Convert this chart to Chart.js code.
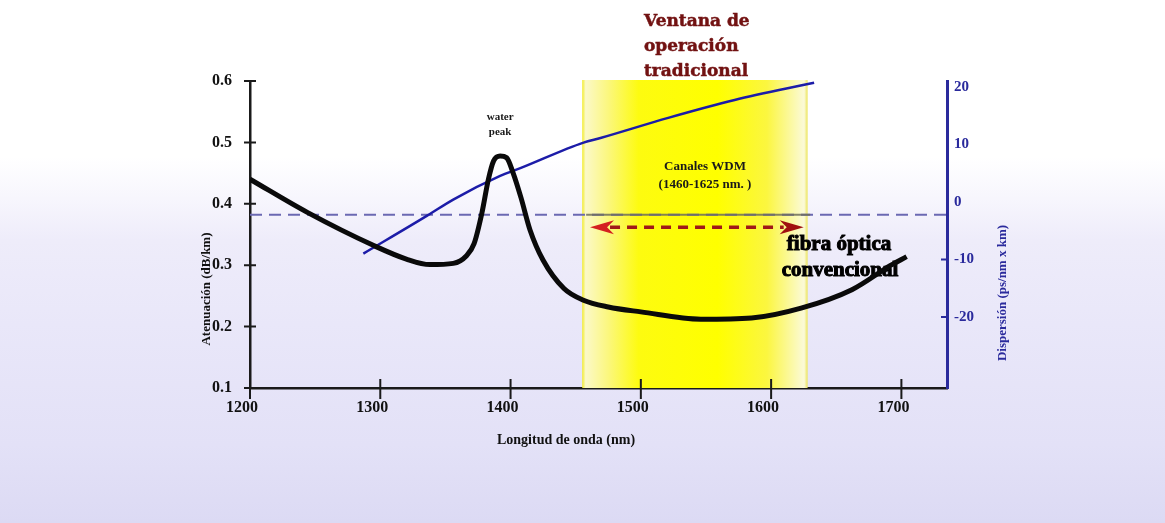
<!DOCTYPE html>
<html>
<head>
<meta charset="utf-8">
<script src="https://cdn.jsdelivr.net/npm/chart.js@4.4.1/dist/chart.umd.min.js"></script>
<style>
    html, body { margin: 0; padding: 0; }
    body {
        width: 1165px;
        height: 523px;
        overflow: hidden;
        background: linear-gradient(180deg, #ffffff 0%, #ffffff 30%, #f7f6fd 38%, #eeecfa 46%, #e9e7f9 62%, #e3e1f7 85%, #dcdaf4 100%);
    }
</style>
</head>
<body>
<canvas id="chart" width="1165" height="523"></canvas>
<script>
// wavelength axis (nm) and tick values
const wavelengthTicks  = [1200, 1300, 1400, 1500, 1600, 1700];
const attenuationTicks = [0.1, 0.2, 0.3, 0.4, 0.5, 0.6];
const dispersionTicks  = [-20, -10, 0, 10, 20];

// attenuation curve (dB/km)
const attenuationNm = [1200, 1244, 1295, 1320, 1338, 1356, 1366, 1372, 1378, 1383, 1387, 1392, 1397, 1402, 1408, 1415, 1425, 1441, 1456, 1475, 1500, 1546, 1585, 1623, 1662, 1692, 1704];
const attenuationDb = [0.440, 0.386, 0.332, 0.310, 0.301, 0.303, 0.315, 0.335, 0.385, 0.440, 0.470, 0.478, 0.475, 0.450, 0.410, 0.357, 0.308, 0.262, 0.243, 0.232, 0.224, 0.212, 0.214, 0.230, 0.260, 0.300, 0.314];

// dispersion curve (ps/nm x km)
const dispersionNm = [1287, 1336, 1356, 1392, 1408, 1456, 1469, 1521, 1572, 1633];
const dispersionPs = [-9.0, -2.4, 0.4, 4.5, 5.9, 10.3, 11.1, 14.6, 17.7, 20.7];

// dashed reference line and WDM window
const refLineNm   = [1200, 1735];
const refLineDb   = [0.382, 0.382];
const bandLineNm  = [1458, 1630];
const wdmBand     = [1455, 1628];
const arrowNm     = [1461, 1625];
const arrowDb     = 0.362;

const pairs = (xs, ys) => xs.map((v, i) => ({x: v, y: ys[i]}));

const serif = '"Liberation Serif", "Times New Roman", serif';
const axisBlue = '#2a2a9c';

const overlay = {
    id: 'overlay',
    beforeDatasetsDraw (chart)
    {
        const {ctx, chartArea: a, scales: {x, y}} = chart;
        ctx.save();

        // heading above the window
        ctx.fillStyle    = '#721212';
        ctx.strokeStyle  = '#721212';
        ctx.lineWidth    = 0.5;
        ctx.font         = 'bold 17px "DejaVu Serif", serif';
        ctx.textAlign    = 'left';
        ctx.textBaseline = 'middle';
        [['Ventana de', 22], ['operación', 47], ['tradicional', 72]].forEach(([t, ty]) => {
            ctx.fillText(t, 644, ty);
            ctx.strokeText(t, 644, ty);
        });

        // WDM window band
        const x0 = x.getPixelForValue(wdmBand[0]);
        const x1 = x.getPixelForValue(wdmBand[1]);
        const g  = ctx.createLinearGradient(x0, 0, x1, 0);
        g.addColorStop(0, '#f2ec2a');
        g.addColorStop(0.015, '#fbf9c8');
        g.addColorStop(0.12, '#fbf77a');
        g.addColorStop(0.25, '#fdfb10');
        g.addColorStop(0.6, '#ffff00');
        g.addColorStop(0.82, '#fbf640');
        g.addColorStop(0.985, '#fbfad8');
        g.addColorStop(1, '#ece55a');
        ctx.fillStyle = g;
        ctx.fillRect(x0, a.top - 1, x1 - x0, a.bottom - a.top + 1);

        // labels inside the plot
        ctx.fillStyle = '#1a1a1a';
        ctx.textAlign = 'center';
        ctx.font      = 'bold 11px ' + serif;
        ctx.fillText('water', x.getPixelForValue(1392), 117);
        ctx.fillText('peak', x.getPixelForValue(1392), 132);

        ctx.font = 'bold 13px ' + serif;
        ctx.fillText('Canales WDM', 705, 167);
        ctx.fillText('(1460-1625 nm. )', 705, 185);

        ctx.fillStyle   = '#000';
        ctx.strokeStyle = '#000';
        ctx.lineWidth   = 1;
        ctx.font        = 'bold 21px ' + serif;
        ctx.fillText('fibra óptica', 839, 245);
        ctx.strokeText('fibra óptica', 839, 245);
        ctx.fillText('convencional', 840, 271);
        ctx.strokeText('convencional', 840, 271);

        ctx.restore();
    },
    afterDatasetsDraw (chart)
    {
        const {ctx, chartArea: a, scales: {x, y, y2}} = chart;
        ctx.save();

        // crossing tick marks
        ctx.strokeStyle = '#1a1a1a';
        ctx.lineWidth   = 2;
        ctx.beginPath();
        wavelengthTicks.forEach((v) => {
            const px = x.getPixelForValue(v);
            ctx.moveTo(px, a.bottom - 9);
            ctx.lineTo(px, a.bottom + 11);
        });
        attenuationTicks.forEach((v) => {
            const py = y.getPixelForValue(v);
            ctx.moveTo(a.left - 6, py);
            ctx.lineTo(a.left + 6, py);
        });
        ctx.stroke();

        ctx.strokeStyle = axisBlue;
        ctx.beginPath();
        dispersionTicks.filter((v) => v < 0).forEach((v) => {
            const py = y2.getPixelForValue(v);
            ctx.moveTo(a.right - 6, py);
            ctx.lineTo(a.right, py);
        });
        ctx.stroke();

        // double arrow
        const ay  = y.getPixelForValue(arrowDb);
        const ax0 = x.getPixelForValue(arrowNm[0]);
        const ax1 = x.getPixelForValue(arrowNm[1]);
        ctx.strokeStyle = '#a01818';
        ctx.lineWidth   = 3.5;
        ctx.setLineDash([10, 7]);
        ctx.beginPath();
        ctx.moveTo(ax0 + 20, ay);
        ctx.lineTo(ax1 - 20, ay);
        ctx.stroke();
        ctx.setLineDash([]);

        const head = (tip, dir, color) => {
            ctx.fillStyle = color;
            ctx.beginPath();
            ctx.moveTo(tip, ay);
            ctx.lineTo(tip + dir * 24, ay - 7);
            ctx.lineTo(tip + dir * 17, ay);
            ctx.lineTo(tip + dir * 24, ay + 7);
            ctx.closePath();
            ctx.fill();
        };
        head(ax0, 1, '#d42020');
        head(ax1, -1, '#a01010');

        // axis titles
        ctx.textAlign    = 'center';
        ctx.textBaseline = 'middle';
        ctx.fillStyle    = '#111';
        ctx.font         = 'bold 14px ' + serif;
        ctx.fillText('Longitud de onda (nm)', 566, 440);

        ctx.font = 'bold 13px ' + serif;
        ctx.save();
        ctx.translate(207, 289);
        ctx.rotate(-Math.PI / 2);
        ctx.fillText('Atenuación (dB/km)', 0, 0);
        ctx.restore();

        ctx.fillStyle = axisBlue;
        ctx.save();
        ctx.translate(1003, 293);
        ctx.rotate(-Math.PI / 2);
        ctx.fillText('Dispersión (ps/nm x km)', 0, 0);
        ctx.restore();

        ctx.restore();
    }
};

const setTicks = (values) => (scale) => {
    scale.ticks = values.map((v) => ({value: v}));
};

new Chart(document.getElementById('chart').getContext('2d'), {
    type: 'line',
    data: {
        datasets: [
            {
                label: 'Atenuación',
                data: pairs(attenuationNm, attenuationDb),
                yAxisID: 'y',
                borderColor: '#0a0a0a',
                borderWidth: 5,
                cubicInterpolationMode: 'monotone',
                pointRadius: 0
            },
            {
                label: 'Dispersión',
                data: pairs(dispersionNm, dispersionPs),
                yAxisID: 'y2',
                borderColor: '#1c1ca8',
                borderWidth: 2.5,
                cubicInterpolationMode: 'monotone',
                pointRadius: 0
            },
            {
                label: 'band line',
                data: pairs(bandLineNm, refLineDb),
                yAxisID: 'y',
                borderColor: 'rgba(110, 110, 90, 0.85)',
                borderWidth: 2,
                pointRadius: 0
            },
            {
                label: 'reference',
                data: pairs(refLineNm, refLineDb),
                yAxisID: 'y',
                borderColor: '#6b69b2',
                borderWidth: 2,
                borderDash: [12, 7],
                pointRadius: 0
            }
        ]
    },
    options: {
        responsive: false,
        animation: false,
        devicePixelRatio: 1,
        layout: {padding: {top: 81, left: 0, right: 0, bottom: 0}},
        plugins: {legend: {display: false}, tooltip: {enabled: false}},
        scales: {
            x: {
                type: 'linear',
                min: 1200,
                max: 1735,
                afterBuildTicks: setTicks(wavelengthTicks),
                afterFit: (s) => { s.height = 135; },
                grid: {display: false, drawTicks: false},
                border: {color: '#1a1a1a', width: 2.5},
                ticks: {
                    color: '#111',
                    font: {family: serif, size: 16, weight: 'bold'},
                    padding: 10,
                    labelOffset: -8,
                    maxRotation: 0,
                    callback: (v) => String(v)
                }
            },
            y: {
                type: 'linear',
                position: 'left',
                min: 0.1,
                max: 0.6,
                afterBuildTicks: setTicks(attenuationTicks),
                afterFit: (s) => { s.width = 250; },
                grid: {display: false, drawTicks: false},
                border: {color: '#1a1a1a', width: 2.5},
                ticks: {
                    color: '#111',
                    font: {family: serif, size: 16, weight: 'bold'},
                    padding: 18,
                    callback: (v) => v.toFixed(1)
                }
            },
            y2: {
                type: 'linear',
                position: 'right',
                min: -32.35,
                max: 21,
                afterBuildTicks: setTicks(dispersionTicks),
                afterFit: (s) => { s.width = 218; },
                grid: {display: false, drawTicks: false},
                border: {color: axisBlue, width: 3},
                ticks: {
                    color: axisBlue,
                    font: {family: serif, size: 15, weight: 'bold'},
                    padding: 7,
                    callback: (v) => String(v)
                }
            }
        }
    },
    plugins: [overlay]
});
</script>
</body>
</html>
